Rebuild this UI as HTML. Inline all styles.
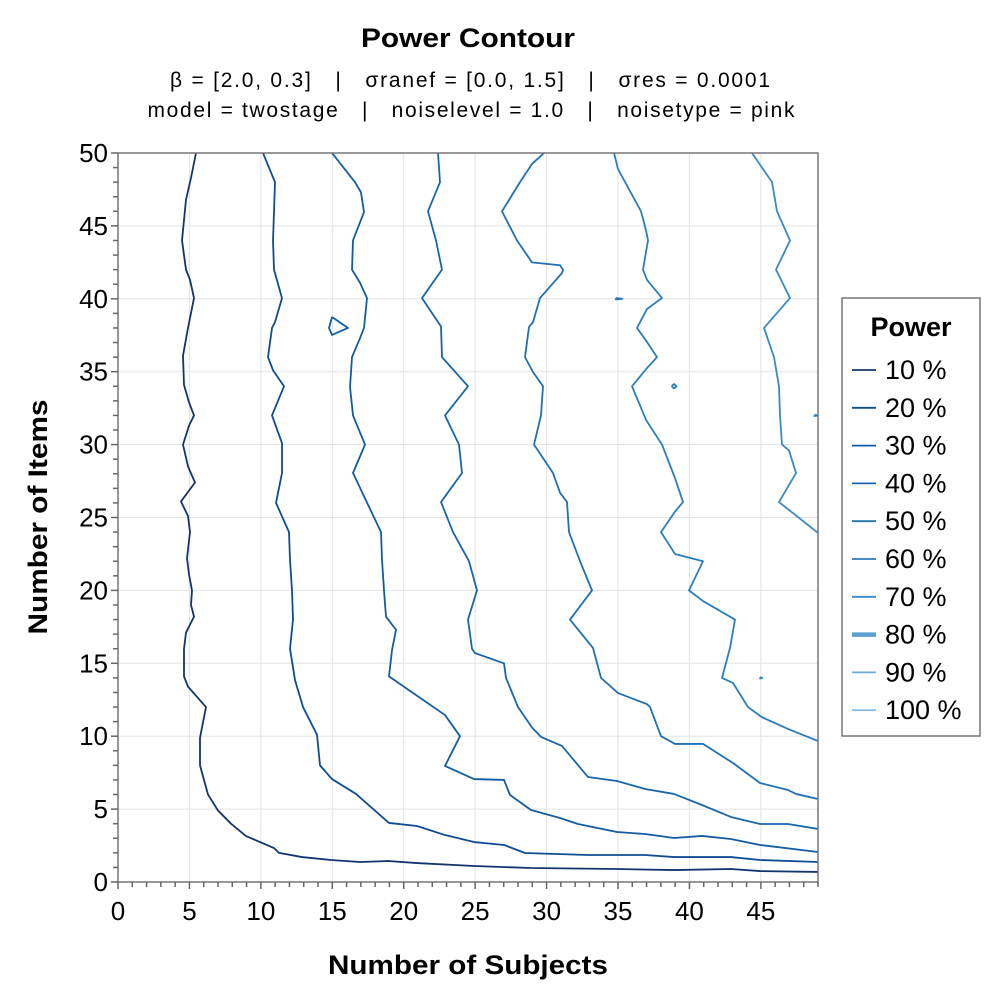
<!DOCTYPE html>
<html><head><meta charset="utf-8"><style>
body{margin:0;background:#fff;}
svg{display:block;font-family:"Liberation Sans",sans-serif;}
</style></head><body>
<svg id="chart" width="1000" height="1000">
<text x="468" y="47" text-anchor="middle" font-size="27" font-weight="bold" textLength="214" lengthAdjust="spacingAndGlyphs">Power Contour</text>
<text x="470" y="87" text-anchor="middle" font-size="21" textLength="600" lengthAdjust="spacing" xml:space="preserve">β = [2.0, 0.3]   |   σranef = [0.0, 1.5]   |   σres = 0.0001</text>
<text x="471" y="117" text-anchor="middle" font-size="21" textLength="647" lengthAdjust="spacing" xml:space="preserve">model = twostage   |   noiselevel = 1.0   |   noisetype = pink</text>
<text x="468" y="974" text-anchor="middle" font-size="27" font-weight="bold" textLength="280" lengthAdjust="spacingAndGlyphs">Number of Subjects</text>
<text transform="translate(47,517) rotate(-90)" text-anchor="middle" font-size="27" font-weight="bold" textLength="235" lengthAdjust="spacingAndGlyphs">Number of Items</text>
<g id="grid"></g>
<g id="lines"></g>
<g id="axes"></g>
<g id="legend"></g>
</svg>
<script>
const xTicks=[0,5,10,15,20,25,30,35,40,45];
const yTicks=[0,5,10,15,20,25,30,35,40,45,50];
const levels=["10 %","20 %","30 %","40 %","50 %","60 %","70 %","80 %","90 %","100 %"];
const levelColors=["#12356e","#0e4d94","#135ba2","#1966ad","#1f70b4","#2b7dbb","#3a89c2","#5a9fd0","#6aaad6","#88bde0"];
const c10=[[5.46,50],[5.11,48.3],[4.76,46.8],[4.48,44],[4.76,42],[5.04,41.3],[5.32,40.05],[4.9,38],[4.55,36.1],[4.62,34.1],[4.97,32.9],[5.32,32],[4.97,31.3],[4.55,30],[4.9,28.5],[5.39,27.4],[4.41,26.1],[4.9,25.1],[5.04,24],[4.83,22.2],[4.97,21.1],[5.18,20],[5.11,19],[5.32,18.2],[4.76,17.1],[4.62,16],[4.62,14.1],[4.9,13.4],[6.16,12],[5.74,9.9],[5.74,8],[6.3,6],[7,4.9],[7.91,4],[8.96,3.15],[10.92,2.33],[11.27,2],[12.88,1.71],[14.91,1.51],[16.94,1.37],[18.9,1.44],[20.93,1.3],[24.92,1.1],[28.9,0.96],[34.93,0.89],[38.92,0.82],[42.9,0.89],[44.94,0.75],[49,0.69]];
const c20=[[10.15,50],[10.99,48],[10.85,44],[10.92,42],[11.48,40.05],[10.99,38.4],[10.78,38],[10.5,36],[10.85,35.1],[11.62,34],[10.78,32],[11.48,30.1],[11.48,28.05],[11.06,26],[11.97,24],[12.04,22.1],[12.18,20],[12.25,18],[12.04,16],[12.39,13.85],[12.95,12],[13.93,10.1],[14.14,8],[14.98,7.06],[16.66,6.04],[18.97,4.05],[20.93,3.84],[22.89,3.22],[24.92,2.74],[27.02,2.54],[28.49,1.99],[32.9,1.85],[36.89,1.85],[38.92,1.71],[42.9,1.71],[44.94,1.51],[49,1.37]];
const c30=[[14.98,50],[16.59,48],[17.01,47.3],[17.22,45.95],[16.45,44],[16.38,42],[16.94,41.1],[17.43,40.05],[17.22,38],[16.94,37.3],[16.38,36],[16.24,33.95],[16.45,32],[17.29,30],[16.45,28.05],[18.41,24],[18.48,22.1],[18.62,20],[18.76,18.2],[19.46,17.3],[19.18,15.9],[18.97,14.1],[22.89,11.45],[23.94,10],[22.89,7.96],[24.92,7.06],[27.02,7],[27.44,5.97],[28.91,4.94],[30.94,4.39],[32.2,3.98],[34.93,3.43],[36.89,3.29],[38.92,3.02],[40.88,3.16],[42.9,2.95],[44.94,2.54],[49,2.06]];
const c30island=[[14.98,38.75],[16.1,38],[14.98,37.52],[14.77,38],[14.98,38.75]];
const c40=[[22.4,50],[22.54,48],[21.7,46],[22.26,44],[22.68,42],[21.28,40.05],[22.61,38.1],[22.68,36],[24.5,34],[22.89,32],[23.87,30],[24.08,28.05],[22.61,26.06],[23.45,24],[24.57,22],[25.13,20],[24.5,18],[24.78,16],[24.99,15.7],[27.02,15],[27.16,14],[28,12],[28.98,10.6],[29.61,9.95],[31.08,9.33],[32.9,7.2],[34.93,6.93],[36.89,6.38],[38.92,6.04],[40.88,5.28],[42.9,4.46],[44.94,3.98],[46.9,3.98],[49,3.64]];
const c50=[[29.82,50],[28.98,49.25],[28.14,48],[26.88,46],[27.93,44],[28.98,42.5],[30.94,42.3],[31.15,41.98],[31.08,41.77],[29.54,40.05],[29.05,38.4],[28.77,38.07],[28.49,36],[29.05,34.98],[29.75,34],[29.61,32],[29.12,30],[30.45,28.05],[30.94,26.7],[31.43,26.06],[31.57,24],[32.34,22],[33.18,20],[31.64,18],[33.25,16.05],[33.81,14],[35,12.96],[37.03,12.2],[37.24,12],[38.01,10],[38.99,9.47],[40.95,9.47],[43.05,8.16],[44.94,6.79],[46.9,6.31],[47.46,6.04],[49,5.69]];
const c60=[[34.72,50],[35,48.9],[36.61,46],[36.96,44.7],[37.1,44],[36.75,42],[37.03,41.3],[38.08,40.05],[37.03,39.3],[36.33,38],[37.03,37.04],[37.73,36],[37.03,35.25],[35.98,34],[36.96,31.7],[38.08,30],[38.99,27.7],[39.55,26.06],[38.99,25.4],[38.01,24],[38.99,22.5],[40.95,22],[39.97,20],[40.95,19.27],[43.19,18],[42.84,16.05],[42.28,14],[43.05,13.65],[44.1,12],[45.08,11.3],[46.9,10.5],[49,9.67]];
const c70=[[44.38,50],[45.78,48],[46.13,46],[47.04,44],[46.06,42],[47.04,40.05],[45.22,38],[45.92,36],[46.27,34],[46.34,32],[46.48,30],[46.97,29.6],[47.46,28.05],[46.27,26.06],[49,23.94]];
const islandA=[[34.85,40.05],[35.3,40],[34.85,39.95],[34.85,40.05]];
const islandB=[[38.75,34],[38.92,34.15],[39.1,34],[38.92,33.85],[38.75,34]];
const islandC=[[48.75,32.05],[49,32],[48.75,31.95],[48.75,32.05]];
const islandD=[[44.95,14.05],[45.1,14],[44.95,13.95],[44.95,14.05]];
const series=[[c10,0],[c20,1],[c30,2],[c30island,2],[c40,3],[c50,4],[c60,5],[islandA,5],[islandB,5],[c70,6],[islandC,6],[islandD,6]];

const X0=118,X1=818,Y0=882,Y1=153,XMAX=49,YMAX=50;
const sx=v=>X0+v*(X1-X0)/XMAX;
const sy=v=>Y0-v*(Y0-Y1)/YMAX;
const NS="http://www.w3.org/2000/svg";
function mk(tag,attrs,parent){const e=document.createElementNS(NS,tag);for(const k in attrs)e.setAttribute(k,attrs[k]);parent.appendChild(e);return e;}
const grid=document.getElementById('grid'),axes=document.getElementById('axes'),lines=document.getElementById('lines'),legend=document.getElementById('legend');
mk('rect',{x:X0,y:Y1,width:X1-X0,height:Y0-Y1,fill:'#fff'},grid);
xTicks.forEach(t=>{const l=mk('line',{x1:sx(t),x2:sx(t),y1:Y1,y2:Y0,stroke:'#e3e3e3','stroke-width':1},grid);

});
yTicks.forEach(t=>{const l=mk('line',{x1:X0,x2:X1,y1:sy(t),y2:sy(t),stroke:'#e3e3e3','stroke-width':1},grid);

});
series.forEach(([pts,li])=>{
  const p=mk('polyline',{points:pts.map(d=>sx(d[0])+','+sy(d[1])).join(' '),fill:'none',stroke:levelColors[li],'stroke-width':1.8,'stroke-linejoin':'round'},lines);
  
  
});
mk('rect',{x:X0,y:Y1,width:X1-X0,height:Y0-Y1,fill:'none',stroke:'#777','stroke-width':1.5},axes);
for(let i=0;i<=XMAX;i++){const major=i%5===0;mk('line',{x1:sx(i),x2:sx(i),y1:Y0,y2:Y0+(major?7:5),stroke:'#666','stroke-width':1.5},axes);}
for(let i=0;i<=YMAX;i++){const major=i%5===0;mk('line',{x1:X0,x2:X0-(major?7:5),y1:sy(i),y2:sy(i),stroke:'#666','stroke-width':1.5},axes);}
xTicks.forEach(t=>{const e=mk('text',{x:sx(t),y:920,'text-anchor':'middle','font-size':26},axes);e.textContent=t;

});
yTicks.forEach(t=>{const e=mk('text',{x:108,y:sy(t)+9,'text-anchor':'end','font-size':26},axes);e.textContent=t;

});
mk('rect',{x:842,y:298,width:138,height:438,fill:'#fff',stroke:'#777','stroke-width':1.5},legend);
const lt=mk('text',{x:911,y:336,'text-anchor':'middle','font-size':27,'font-weight':'bold'},legend);lt.textContent='Power';


levels.forEach((lab,i)=>{const y=370+i*37.8;
  const g=mk('g',{},legend);
  
  
  mk('line',{x1:852,x2:876,y1:y,y2:y,stroke:levelColors[i],'stroke-width':i===7?4.5:1.8},g);
  const t=mk('text',{x:885,y:y+9,'font-size':27},g);t.textContent=lab;});
</script>
</body></html>
